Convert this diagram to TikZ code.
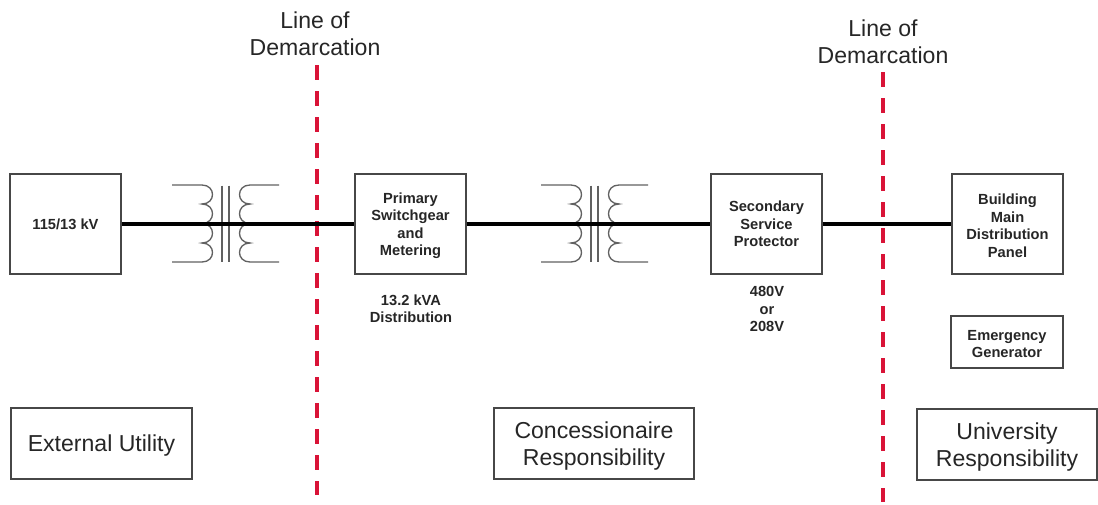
\documentclass[tikz,border=0pt]{standalone}
\usepackage{fontspec}
\setmainfont{Liberation Sans}
\definecolor{demarcred}{RGB}{217,19,55}
\tikzset{
  box/.style={draw=black!72,line width=1.1pt,inner sep=0pt,align=center,minimum width=#1},
  small/.style={font=\fontsize{11}{13.1}\selectfont\bfseries,text=black!85},
  big/.style={font=\fontsize{17.3}{20.6}\selectfont,text=black!85},
  bus/.style={line width=2.9pt,black},
  demarc/.style={draw=demarcred,line width=3pt,dash pattern=on 11pt off 8.5pt},
  coil/.style={draw=black!62,line width=1pt},
  plainlabel/.style={inner sep=0pt,align=center},
  xformer/.pic={
    \draw[coil] (-57,-38.5) -- (-27,-38.5)
      .. controls (-13,-38.5) and (-13,-19.5) .. (-27,-19.5)
      .. controls (-13,-19.5) and (-13,0) .. (-27,0)
      .. controls (-13,0) and (-13,19.5) .. (-27,19.5)
      .. controls (-13,19.5) and (-13,38.5) .. (-27,38.5) -- (-57,38.5);
    \draw[coil] (50,-38.5) -- (21,-38.5)
      .. controls (7,-38.5) and (7,-19.5) .. (21,-19.5)
      .. controls (7,-19.5) and (7,0) .. (21,0)
      .. controls (7,0) and (7,19.5) .. (21,19.5)
      .. controls (7,19.5) and (7,38.5) .. (21,38.5) -- (50,38.5);
    \draw[coil] (-7,-38) -- (-7,38);
    \draw[coil] (0,-38) -- (0,38);
  }
}
\begin{document}
\begin{tikzpicture}[x=0.75pt,y=-0.75pt]
\useasboundingbox (0,0) rectangle (1098,504);
\fill[white] (0,0) rectangle (1098,504);
% coordinates for the free ends of the demarcation lines
\coordinate (d1t) at (317,65);
\coordinate (d1b) at (317,495);
\coordinate (d2t) at (883,72);
\coordinate (d2b) at (883,502);
\draw[demarc] (d1t) -- (d1b);
\draw[demarc] (d2t) -- (d2b);
% transformers
\pic at (229,223.5) {xformer};
\pic at (598,223.5) {xformer};
% main nodes
\node[box=83.25pt,minimum height=75pt,small] (ext) at (65.5,224) {115/13 kV};
\node[box=83.25pt,minimum height=75pt,small] (prim) at (410.5,224) {\rule{0pt}{10.5pt}Primary\\Switchgear\\and\\Metering};
\node[box=83.25pt,minimum height=75pt,small] (sec) at (766.5,224) {Secondary\\Service\\Protector};
\node[box=83.25pt,minimum height=75pt,small] (bldg) at (1007.5,224) {\rule{0pt}{10.5pt}Building\\Main\\Distribution\\Panel};
\node[box=84pt,minimum height=39pt,small] (gen) at (1007,342) {\rule{0pt}{10.5pt}Emergency\\Generator};
% bus
\draw[bus] (ext.east) -- (prim.west);
\draw[bus] (prim.east) -- (sec.west);
\draw[bus] (sec.east) -- (bldg.west);
% notes
\node[plainlabel,small] (kva) at (411,309) {13.2 kVA\\Distribution};
\node[plainlabel,small] (volt) at (767,309) {480V\\or\\208V};
% responsibility boxes
\node[box=135.75pt,minimum height=53.25pt,big] (util) at (101.5,443.5) {\rule{0pt}{16pt}External Utility};
\node[box=150pt,minimum height=53.25pt,big] (conc) at (594,443.5) {\rule{0pt}{16pt}Concessionaire\\Responsibility};
\node[box=135pt,minimum height=53.25pt,big] (univ) at (1007,444.5) {\rule{0pt}{16pt}University\\Responsibility};
% demarcation labels
\node[plainlabel,big] (l1) at (315,34) {Line of\\Demarcation};
\node[plainlabel,big] (l2) at (883,42) {Line of\\Demarcation};
\end{tikzpicture}
\end{document}
